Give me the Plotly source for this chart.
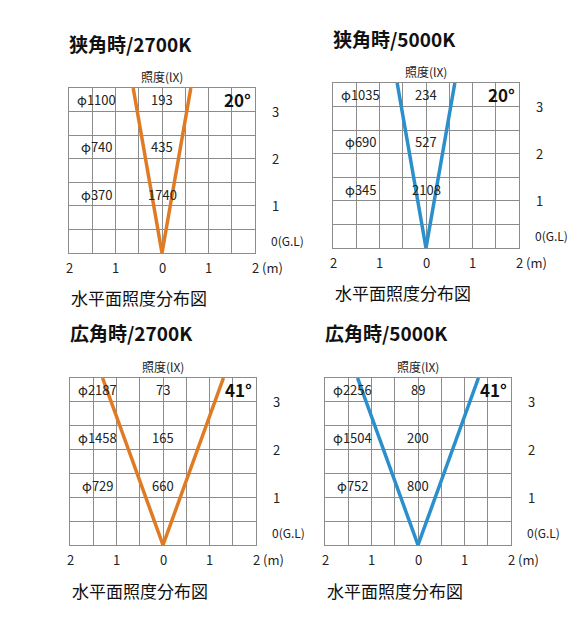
import plotly.graph_objects as go

titles = ["狭角時/2700K", "狭角時/5000K", "広角時/2700K", "広角時/5000K"]
angles = ["20°", "20°", "41°", "41°"]
colors = ["#E07B24", "#2A8FCB", "#E07B24", "#2A8FCB"]
beam_top_x = [0.62, 0.62, 1.30, 1.30]  # beam edge half-width at top of grid (m)
diam_labels = [["φ1100", "φ740", "φ370"], ["φ1035", "φ690", "φ345"],
               ["φ2187", "φ1458", "φ729"], ["φ2256", "φ1504", "φ752"]]
lux_labels = [["193", "435", "1740"], ["234", "527", "2108"],
              ["73", "165", "660"], ["89", "200", "800"]]
label_heights = [3.25, 2.25, 1.25]
x_tick_vals = [-2, -1, 0, 1, 2]
x_tick_text = ["2", "1", "0", "1", "2"]
y_tick_vals = [3, 2, 1]

W, H = 588, 642
OFF = 8  # page body margin
boxes = [(69, 255, 88, 253), (333, 519, 83, 248), (70, 256, 378, 545), (325, 511, 378, 545)]
F = "Noto Sans CJK JP, Noto Sans, sans-serif"

fig = go.Figure()
layout = dict(width=W, height=H, margin=dict(l=0, r=0, t=0, b=0),
              paper_bgcolor="white", plot_bgcolor="white", showlegend=False)
ann = []
for i in range(4):
    x0, x1, y0, y1 = [v - OFF for v in boxes[i]]
    xa = "xaxis" if i == 0 else f"xaxis{i+1}"
    ya = "yaxis" if i == 0 else f"yaxis{i+1}"
    xr = "x" if i == 0 else f"x{i+1}"
    yr = "y" if i == 0 else f"y{i+1}"
    layout[xa] = dict(domain=[x0 / W, x1 / W], range=[-2, 2], dtick=0.5, tick0=0,
                      showticklabels=False, showgrid=True, gridcolor="#8c8c8c", gridwidth=1,
                      zeroline=False, showline=True, linecolor="#8c8c8c", mirror=True,
                      anchor=yr, fixedrange=True)
    layout[ya] = dict(domain=[1 - y1 / H, 1 - y0 / H], range=[0, 3.5], dtick=0.5, tick0=0,
                      showticklabels=False, showgrid=True, gridcolor="#8c8c8c", gridwidth=1,
                      zeroline=False, showline=True, linecolor="#8c8c8c", mirror=True,
                      anchor=xr, fixedrange=True)
    bx = beam_top_x[i]
    fig.add_trace(go.Scatter(x=[-bx, 0, bx], y=[3.5, 0, 3.5], mode="lines",
                             line=dict(color=colors[i], width=3.5), xaxis=xr, yaxis=yr,
                             hoverinfo="skip", cliponaxis=True))

    def A(x, y, t, size=13, xanchor="center", yanchor="middle", bold=False, color="#222",
          _x0=x0, _x1=x1, _y0=y0, _y1=y1):
        px = _x0 + (x + 2) / 4 * (_x1 - _x0)
        py = _y1 - y / 3.5 * (_y1 - _y0)
        ann.append(dict(x=px / W, y=1 - py / H, xref="paper", yref="paper",
                        text=f"<b>{t}</b>" if bold else t,
                        showarrow=False, xanchor=xanchor, yanchor=yanchor,
                        font=dict(size=size, color=color, family=F)))
    A(-2.05, 4.45, titles[i], size=19, xanchor="left", bold=True, color="#111")
    A(0, 3.75, "照度(lX)", size=12)
    A(1.95, 3.25, angles[i], size=17, xanchor="right", bold=True, color="#111")
    for h, d, l in zip(label_heights, diam_labels[i], lux_labels[i]):
        A(-1.4, h, d, size=13)
        A(0, h, l, size=13)
    for v, t in zip(x_tick_vals, x_tick_text):
        A(v, -0.3, t, size=13)
    A(2.1, -0.3, "(m)", size=13, xanchor="left")
    for v in y_tick_vals:
        A(2.45, v, str(v), size=13)
    A(2.3, 0.05, "0(G.L)", size=12, xanchor="left", yanchor="bottom")
    A(-2.0, -0.95, "水平面照度分布図", size=17, xanchor="left", color="#111")

layout["annotations"] = ann
fig.update_layout(**layout)
fig.write_html("out.html")
